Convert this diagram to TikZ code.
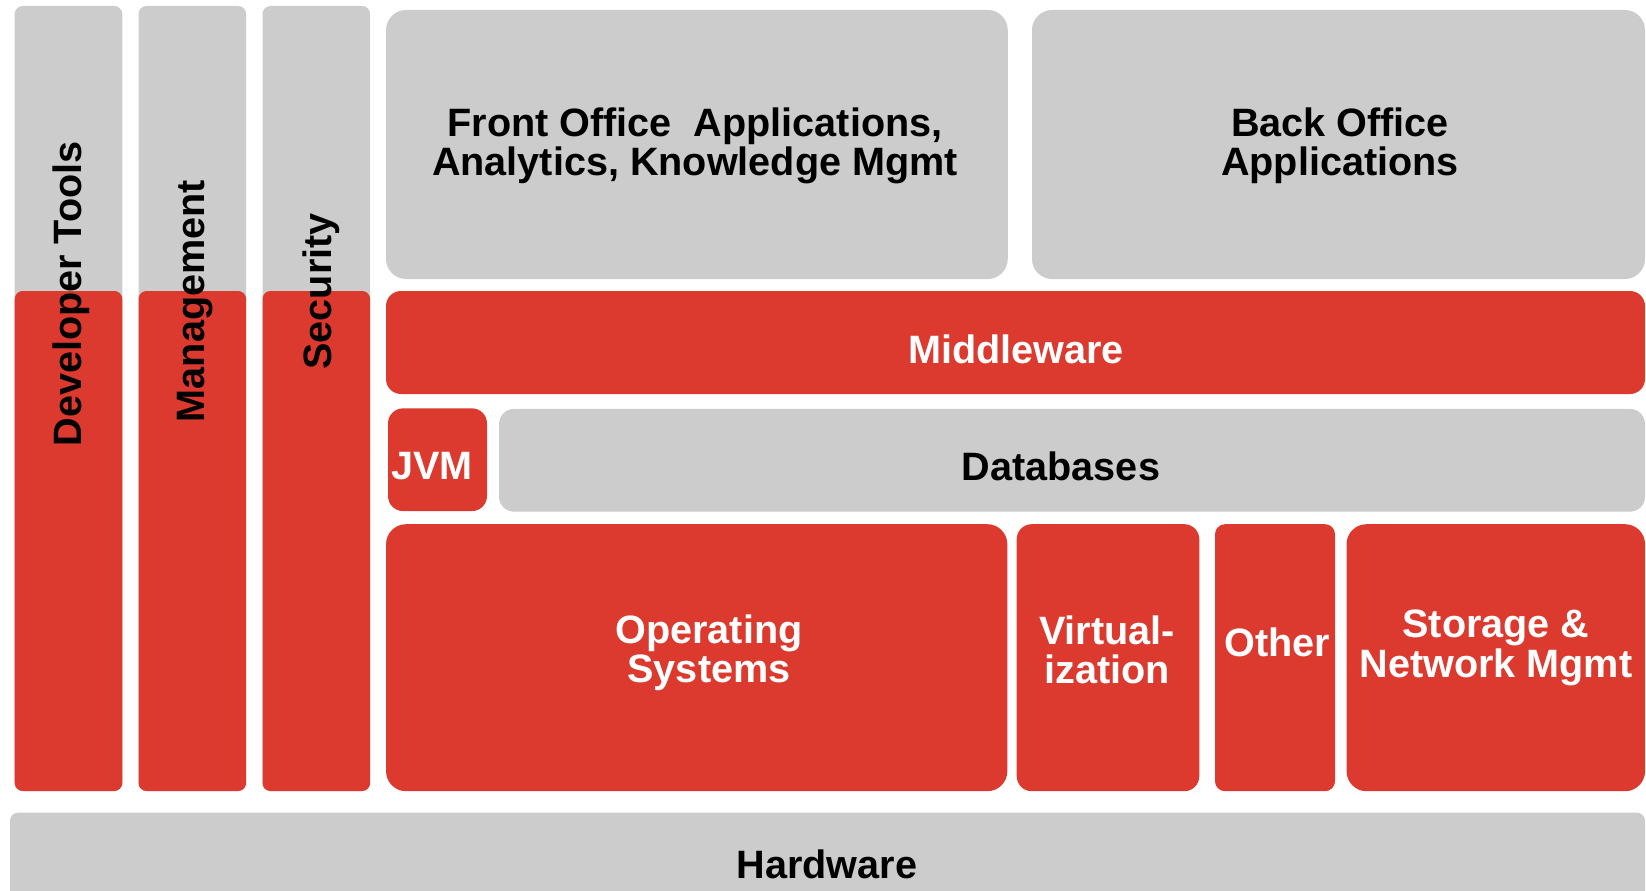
\documentclass[tikz,border=0pt]{standalone}
\usepackage{fontspec}
\setmainfont{Liberation Sans}
\definecolor{stackred}{RGB}{220,57,47}
\definecolor{stackgray}{RGB}{204,204,204}
\tikzset{
  box/.style={inner sep=0pt, draw=none},
  graybox/.style={box, fill=stackgray},
  redbox/.style={box, fill=stackred},
  txt/.style={inner sep=0pt, align=center, font=\bfseries\fontsize{39.6}{39.3}\selectfont},
}

\begin{document}
\begin{tikzpicture}[x=1pt, y=-1pt]
\useasboundingbox (0,0) rectangle (1646,891);
% side columns
\foreach \n/\cx in {dev/68.5, mgmt/192.3, sec/316.3} {
  \node[graybox, rounded corners=8pt, minimum width=107.6pt, minimum height=785pt] (\n top) at (\cx,398.5) {};
  \node[redbox, rounded corners=8pt, minimum width=107.6pt, minimum height=500pt] (\n bot) at (\cx,541) {};
}
\node[txt, rotate=90] (devtxt) at (71,294) {Developer Tools};
\node[txt, rotate=90] (mgmttxt) at (195,301) {Management};
\node[txt, rotate=90] (sectxt) at (321,291.5) {Security};
% applications
\node[graybox, rounded corners=20pt, minimum width=621.7pt, minimum height=269pt] (front) at (696.9,144.5) {};
\node[graybox, rounded corners=20pt, minimum width=613pt, minimum height=269pt] (back) at (1338.5,144.5) {};
\node[txt] (fronttxt) at (695,146) {Front Office\ \ Applications,\\Analytics, Knowledge Mgmt};
\node[txt] (backtxt) at (1340,146) {Back Office\\Applications};
% middleware, jvm, databases
\node[redbox, rounded corners=15pt, minimum width=1259pt, minimum height=103pt] (mid) at (1015.5,342.5) {};
\node[redbox, rounded corners=15pt, minimum width=99pt, minimum height=102.7pt] (jvm) at (437.5,459.7) {};
\node[graybox, rounded corners=15pt, minimum width=1146pt, minimum height=102.7pt] (db) at (1072,460.3) {};
\node[txt, text=white] (midtxt) at (1016,349) {Middleware};
\node[txt, text=white] (jvmtxt) at (432,466) {JVM};
\node[txt] (dbtxt) at (1061,466) {Databases};
% operating layer
\node[redbox, rounded corners=20pt, minimum width=621.3pt, minimum height=267pt] (os) at (696.7,657.7) {};
\node[redbox, rounded corners=15pt, minimum width=182.6pt, minimum height=267pt] (virt) at (1108,657.7) {};
\node[redbox, rounded corners=10pt, minimum width=120pt, minimum height=267pt] (other) at (1275,657.7) {};
\node[redbox, rounded corners=20pt, minimum width=298.5pt, minimum height=267pt] (stor) at (1495.8,657.7) {};
\node[txt, text=white] (ostxt) at (709,653) {Operating\\Systems};
\node[txt, text=white] (virttxt) at (1107,650) {Virtual-\\ization};
\node[txt, text=white] (othertxt) at (1277,642) {Other};
\node[txt, text=white] (stortxt) at (1496,648) {Storage \&\\Network Mgmt};
% hardware
\node[graybox, rounded corners=8pt, minimum width=1635pt, minimum height=104.6pt] (hw) at (827.5,865) {};
\node[txt] (hwtxt) at (827,864) {Hardware};
\end{tikzpicture}
\end{document}
